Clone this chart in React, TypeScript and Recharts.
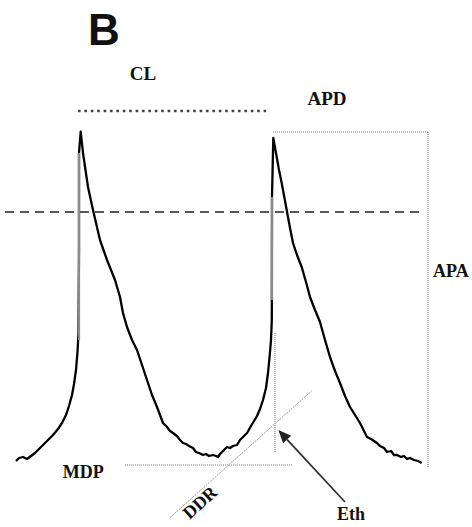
import React from 'react';
import { ComposedChart, Line, XAxis, YAxis, ReferenceLine, ReferenceDot } from 'recharts';

// Membrane potential trace: time (ms) and voltage (mV)
const traceTime = [
  0, 6, 14, 22, 30, 38, 46, 54, 64, 74, 84, 92, 100, 106, 112, 116, 120, 123, 125, 126, 126, 129.4,
  134, 139, 144, 154, 161, 168, 182, 198, 208, 214, 222, 232, 242, 252, 262, 272, 282, 288, 294, 302,
  308, 314, 322, 328, 334, 340, 346, 354, 360, 366, 374, 380, 386, 394, 400, 404, 408, 414, 422, 428,
  434, 442, 448, 456, 462, 470, 476, 482, 488, 494, 500, 504, 507, 510, 511.6, 512, 514.6,
  521.4, 526, 531.4, 541.4, 548, 554, 562, 571.4, 580, 588, 598, 608, 618, 628, 638, 648, 658, 668,
  678, 688, 694, 702, 710, 716, 722, 728, 736, 742, 750, 756, 762, 770, 776, 782, 788, 796, 804, 811.4,
];
const traceMv = [
  -62.25, -61.5, -61.25, -61.75, -61, -60.25, -59.25, -58.25, -57, -55.75, -54.25, -52.75, -50.75, -48.5,
  -45.75, -43, -39.5, -35, -30.25, -9.5, 14.75, 20.1,
  14.75, 10.5, 6.25, 0.5, -3.25, -7, -12, -17, -21.25, -25.25, -28.75, -32, -34.5, -38.25, -42, -45.75,
  -48.75, -50.75, -52.75, -53.75, -54.75, -55.25, -56, -57, -57.75, -58, -58.5, -59, -60, -60.25,
  -60.75, -60.5, -61, -60.75, -61, -61.25, -60.5, -59.75, -58.75, -59, -58.5, -58.25, -57, -56,
  -55.25, -53.5, -52.25, -51, -49.25, -47, -44, -40.25, -36.5, -32, -27, 3.75, 18.5,
  13.75, 10.5, 7.25, 0.5, -4, -7.75, -10.75, -13.75, -17.5, -21.25, -24.5, -27.5, -32, -36.25, -39.75,
  -42.75, -46, -48.75, -50.75, -52.75, -54.25, -56.25, -56.75, -57.25, -57.75, -58.5, -59, -60,
  -59.75, -60.75, -60.75, -61.25, -61, -61.75, -61.5, -62, -62.25, -62.75,
];
// Upstroke (phase 0) segments, drawn in grey
const upstroke1Time = [126, 126];
const upstroke1Mv = [-32, 14.75];
const upstroke2Time = [512, 512];
const upstroke2Mv = [-22, 3.75];

const toRows = (ts: number[], vs: number[]) => ts.map((t, i) => ({ t, v: vs[i] }));
const traceRows = toRows(traceTime, traceMv);
const up1Rows = toRows(upstroke1Time, upstroke1Mv);
const up2Rows = toRows(upstroke2Time, upstroke2Mv);

const serif = '"Liberation Serif", "Times New Roman", serif';

const textShape = (txt: string, anchor: string, size: number, rotate = 0, family = serif) => (p: any) => (
  <text
    x={p.cx}
    y={p.cy}
    textAnchor={anchor}
    fontFamily={family}
    fontWeight="bold"
    fontSize={size}
    fill="#111"
    transform={rotate ? `rotate(${rotate} ${p.cx} ${p.cy})` : undefined}
  >
    {txt}
  </text>
);

const ArrowShape = (p: any) => {
  const { x1, y1, x2, y2 } = p;
  const ang = Math.atan2(y2 - y1, x2 - x1);
  const L = 13;
  const W = 5.5;
  const bx = x2 - L * Math.cos(ang);
  const by = y2 - L * Math.sin(ang);
  const pts = `${x2},${y2} ${bx - W * Math.sin(ang)},${by + W * Math.cos(ang)} ${bx + W * Math.sin(ang)},${by - W * Math.cos(ang)}`;
  return (
    <g>
      <line x1={x1} y1={y1} x2={bx} y2={by} stroke="#333" strokeWidth={1.8} />
      <polygon points={pts} fill="#222" />
    </g>
  );
};

export default function App() {
  return (
    <div style={{ position: 'absolute', left: 0, top: 0, width: 472, height: 527, background: '#fff' }}>
      <ComposedChart width={472} height={527} margin={{ top: 0, right: 0, bottom: 0, left: 0 }}>
        <XAxis dataKey="t" type="number" domain={[-32, 912]} hide allowDataOverflow />
        <YAxis type="number" domain={[-78.75, 53]} hide allowDataOverflow />

        {/* 0 mV dashed line */}
        <ReferenceLine segment={[{ x: -22, y: 0 }, { x: 814, y: 0 }]} stroke="#222" strokeWidth={1.6} strokeDasharray="9 6" ifOverflow="visible" />
        {/* CL dotted */}
        <ReferenceLine segment={[{ x: 124, y: 25.25 }, { x: 508, y: 25.25 }]} stroke="#444" strokeWidth={2.6} strokeDasharray="2.6 3.8" ifOverflow="visible" />
        {/* APD box */}
        <ReferenceLine segment={[{ x: 514, y: 20 }, { x: 824, y: 20 }]} stroke="#777" strokeWidth={1} strokeDasharray="1 1" ifOverflow="visible" />
        <ReferenceLine segment={[{ x: 824, y: 20 }, { x: 824, y: -63.75 }]} stroke="#777" strokeWidth={1} strokeDasharray="1 1" ifOverflow="visible" />
        {/* Eth vertical */}
        <ReferenceLine segment={[{ x: 518, y: -30.25 }, { x: 518, y: -60 }]} stroke="#777" strokeWidth={1} strokeDasharray="1 1" ifOverflow="visible" />
        {/* MDP */}
        <ReferenceLine segment={[{ x: 218, y: -63.25 }, { x: 554, y: -63.25 }]} stroke="#777" strokeWidth={1} strokeDasharray="1 1" ifOverflow="visible" />
        {/* DDR */}
        <ReferenceLine segment={[{ x: 308, y: -76.4 }, { x: 591.4, y: -44.7 }]} stroke="#999" strokeWidth={1} strokeDasharray="2 1" ifOverflow="visible" />
        {/* Eth arrow */}
        <ReferenceLine segment={[{ x: 658, y: -72.5 }, { x: 524.6, y: -54.5 }]} shape={ArrowShape} ifOverflow="visible" />

        <Line data={traceRows} dataKey="v" stroke="#000" strokeWidth={2.3} dot={false} activeDot={false} isAnimationActive={false} strokeLinejoin="round" />
        <Line data={up1Rows} dataKey="v" stroke="#8a8a8a" strokeWidth={2.2} dot={false} activeDot={false} isAnimationActive={false} />
        <Line data={up2Rows} dataKey="v" stroke="#8a8a8a" strokeWidth={2.2} dot={false} activeDot={false} isAnimationActive={false} />

        <ReferenceDot x={144} y={41.75} r={0} ifOverflow="visible" shape={textShape('B', 'start', 44, 0, '"Liberation Sans", Arial, sans-serif')} />
        <ReferenceDot x={254} y={33} r={0} ifOverflow="visible" shape={textShape('CL', 'middle', 19)} />
        <ReferenceDot x={622} y={26.75} r={0} ifOverflow="visible" shape={textShape('APD', 'middle', 19)} />
        <ReferenceDot x={834} y={-16.25} r={0} ifOverflow="visible" shape={textShape('APA', 'start', 18)} />
        <ReferenceDot x={93.4} y={-66.5} r={0} ifOverflow="visible" shape={textShape('MDP', 'start', 18)} />
        <ReferenceDot x={376} y={-73.75} r={0} ifOverflow="visible" shape={textShape('DDR', 'middle', 18, -42)} />
        <ReferenceDot x={642} y={-77} r={0} ifOverflow="visible" shape={textShape('Eth', 'start', 18)} />
      </ComposedChart>
    </div>
  );
}
